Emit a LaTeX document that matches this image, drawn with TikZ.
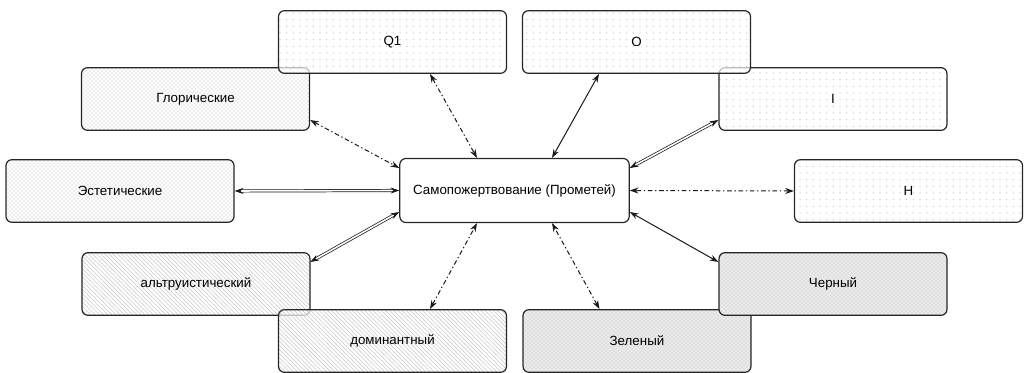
\documentclass[tikz,border=0pt]{standalone}
\usepackage{fontspec}
\setmainfont{Liberation Sans}
\usetikzlibrary{arrows.meta,patterns,patterns.meta,calc}
\begin{document}
\begin{tikzpicture}[x=0.75pt,y=-0.75pt,
  box/.style={draw=black!85, line width=0.9pt, rounded corners=4.5pt,
    minimum width=171pt, minimum height=47pt, inner sep=0pt, font=\fontsize{10}{12}\selectfont,
    preaction={fill=white, fill opacity=0.7}},
  sparse/.style={pattern={Dots[radius=0.45pt, distance=5pt]}, pattern color=black!25},
  dense/.style={pattern=crosshatch dots, pattern color=black!28},
  hatch/.style={pattern={Lines[angle=-45, distance=2.2pt, line width=0.4pt]}, pattern color=black!22},
  grey/.style={preaction={fill=black!8}, pattern=crosshatch dots, pattern color=black!28},
  tips/.style={{Stealth[length=6.5pt,width=4.5pt]}-{Stealth[length=6.5pt,width=4.5pt]}},
  solidarr/.style={tips, line width=0.75pt, draw=black!90},
  dasharr/.style={tips, line width=0.75pt, draw=black!90, dash pattern=on 3.5pt off 2pt on 1pt off 2pt},
  dblarr/.style={tips, line width=0.55pt, double, double distance=1.2pt, draw=black!90}
]
\useasboundingbox (0,0) rectangle (1026,373);

\node[box, dense]  (g) at (195.5,99)  {Глорические};
\node[box, sparse] (q) at (392.5,42)  {Q1};
\node[box, sparse] (i) at (833,99)    {I};
\node[box, sparse] (o) at (636.5,42)  {O};
\node[box, dense]  (e) at (120,191)   {Эстетические};
\node[box, sparse] (h) at (908.5,191) {H};
\node[box, hatch]  (a) at (196,284)   {альтруистический};
\node[box, hatch]  (d) at (392.5,341) {доминантный};
\node[box, grey]   (z) at (637,341)   {Зеленый};
\node[box, grey]   (k) at (833,284)   {Черный};
\node[box, minimum width=172pt, minimum height=48pt, preaction={fill=white}] (c) at (514.5,190.5) {Самопожертвование (Прометей)};

\draw[dasharr]  ($(q.south)+(37.5,0)$) -- ($(c.north)+(-37.5,0)$);
\draw[solidarr] ($(o.south)+(-37.5,0)$) -- ($(c.north)+(37.5,0)$);
\draw[dasharr]  ($(g.east)+(0,21)$) -- ($(c.west)+(0,-22.5)$);
\draw[dblarr]   ($(i.west)+(0,21)$) -- ($(c.east)+(0,-22.5)$);
\draw[dblarr]   (e.east) -- (c.west);
\draw[dasharr]  (h.west) -- (c.east);
\draw[dblarr]   ($(a.east)+(0,-22)$) -- ($(c.west)+(0,21.5)$);
\draw[solidarr] ($(k.west)+(0,-22)$) -- ($(c.east)+(0,21.5)$);
\draw[dasharr]  ($(d.north)+(37.5,0)$) -- ($(c.south)+(-37.5,0)$);
\draw[dasharr]  ($(z.north)+(-37.5,0)$) -- ($(c.south)+(37.5,0)$);
\end{tikzpicture}
\end{document}
